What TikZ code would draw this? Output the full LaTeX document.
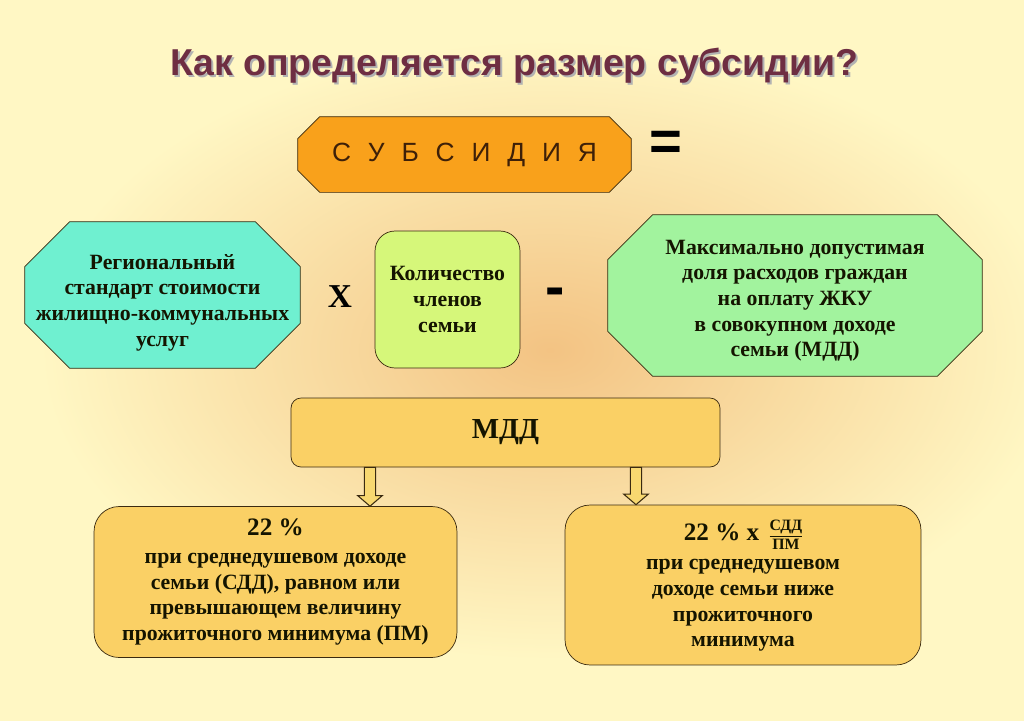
\documentclass[tikz,border=0pt]{standalone}
\usepackage{fontspec}
\setmainfont{Liberation Serif}
\newfontfamily\arialfont{Liberation Sans}
\usetikzlibrary{calc,backgrounds}
\definecolor{bgcream}{HTML}{FFF7C4}
\definecolor{bgpeach}{HTML}{F3C383}
\definecolor{titlecol}{HTML}{6E2E42}
\definecolor{subsorange}{HTML}{F9A11B}
\definecolor{subsbrown}{HTML}{3E2008}
\definecolor{aquafill}{HTML}{6FF0D0}
\definecolor{limefill}{HTML}{D6F77A}
\definecolor{greenfill}{HTML}{A2F39E}
\definecolor{goldfill}{HTML}{FAD065}
\definecolor{arrowyellow}{HTML}{F8D870}
\definecolor{edgedark}{HTML}{3A2A10}
\definecolor{textdark}{HTML}{141400}

% octagon behind a node: node name, chamfer, fill colour
\newcommand\octfill[3]{\draw[draw=edgedark, fill=#3]
  ([xshift=#2]#1.north west) -- ([xshift=-#2]#1.north east) -- ([yshift=-#2]#1.north east)
  -- ([yshift=#2]#1.south east) -- ([xshift=-#2]#1.south east) -- ([xshift=#2]#1.south west)
  -- ([yshift=#2]#1.south west) -- ([yshift=-#2]#1.north west) -- cycle;}

\begin{document}
\begin{tikzpicture}[x=0.02cm, y=-0.02cm,
    every node/.style={font=\bfseries\fontsize{12.4}{14.6}\selectfont, text=textdark, align=center},
    octbox/.style={rectangle, inner sep=0pt},
    roundbox/.style={draw=edgedark, rectangle, rounded corners=0.5cm, inner sep=0pt},
    signtext/.style={font=\arialfont\bfseries\fontsize{#1}{#1}\selectfont, text=black},
    blockarrow/.style={draw=edgedark, fill=arrowyellow, line width=0.6pt}]
      \useasboundingbox (0,0) rectangle (1024,721);
      % title
      \node[font=\arialfont\bfseries\fontsize{21.3}{24}\selectfont, text=black!30] (titleshadow) at (516,68) {Как определяется размер субсидии?};
      \node[font=\arialfont\bfseries\fontsize{21.3}{24}\selectfont, text=titlecol] (title) at (514,66) {Как определяется размер субсидии?};
      % top row
      \node[octbox, minimum width=6.66cm, minimum height=1.5cm, font=\arialfont\fontsize{15}{17}\selectfont, text=subsbrown] (subs) at (464.5,154.5) {С\hspace{9.6pt}У\hspace{9.6pt}Б\hspace{9.6pt}С\hspace{9.6pt}И\hspace{9.6pt}Д\hspace{9.6pt}И\hspace{9.6pt}Я};
      \node[signtext=32] (eq) at (666,146) {=};
      % formula row
      \node[octbox, minimum width=5.5cm, minimum height=2.92cm] (norm) at (162.5,295) {\rule{0pt}{17pt}Региональный\\стандарт стоимости\\жилищно-коммунальных\\услуг};
      \node[font=\bfseries\fontsize{19}{19}\selectfont, text=black] (times) at (340,297) {X};
      \node[roundbox, rounded corners=0.4cm, fill=limefill, minimum width=2.9cm, minimum height=2.74cm] (family) at (447.5,299.5) {Количество\\членов\\семьи};
      \node[signtext=33] (minus) at (555,297) {-};
      \node[octbox, minimum width=7.48cm, minimum height=3.22cm] (share) at (795,295.5) {\rule{0pt}{14pt}Максимально допустимая\\доля расходов граждан\\на оплату ЖКУ\\в совокупном доходе\\семьи (МДД)};
      % MDD and its two cases
      \node[roundbox, rounded corners=0.2cm, fill=goldfill, minimum width=8.58cm, minimum height=1.38cm, font=\bfseries\fontsize{16.5}{18}\selectfont] (mdd) at (505.5,432.5) {МДД};
      \node[roundbox, fill=goldfill, minimum width=7.26cm, minimum height=3.02cm] (caseabove) at (275.5,582) {{\fontsize{14.3}{16}\selectfont 22 \%}\\[1.5pt]при среднедушевом доходе\\семьи (СДД), равном или\\превышающем величину\\прожиточного минимума (ПМ)};
      \node[roundbox, fill=goldfill, minimum width=7.12cm, minimum height=3.2cm] (casebelow) at (743,585) {{\fontsize{14.3}{16}\selectfont 22 \% x\, \fontsize{9}{10}\selectfont\begin{tabular}{@{}c@{}}\underline{СДД}\\[0.5pt]ПМ\end{tabular}}\\[2pt]при среднедушевом\\доходе семьи ниже\\прожиточного\\минимума};
      % arrows
      \coordinate (lcol) at (370,0);
      \coordinate (rcol) at (636,0);
      \draw[blockarrow] let \p1=(lcol |- mdd.south), \p2=(lcol |- caseabove.north) in
        (\x1-3.2pt,\y1) -- (\x1+3.2pt,\y1) -- (\x1+3.2pt,\y2+6pt) -- (\x1+7pt,\y2+6pt) -- (\x2,\y2)
        -- (\x1-7pt,\y2+6pt) -- (\x1-3.2pt,\y2+6pt) -- cycle;
      \draw[blockarrow] let \p1=(rcol |- mdd.south), \p2=(rcol |- casebelow.north) in
        (\x1-3.2pt,\y1) -- (\x1+3.2pt,\y1) -- (\x1+3.2pt,\y2+6pt) -- (\x1+7pt,\y2+6pt) -- (\x2,\y2)
        -- (\x1-7pt,\y2+6pt) -- (\x1-3.2pt,\y2+6pt) -- cycle;
      % background and octagon boxes
      \begin{scope}[on background layer]
        \fill[bgcream] (0,0) rectangle (1024,721);
        \clip (0,0) rectangle (1024,721);
        \shade[inner color=bgpeach, outer color=bgcream] (40,40) rectangle (1060,660);
        \octfill{subs}{0.44cm}{subsorange}
        \octfill{norm}{0.9cm}{aquafill}
        \octfill{share}{0.9cm}{greenfill}
      \end{scope}
    \end{tikzpicture}
\end{document}
